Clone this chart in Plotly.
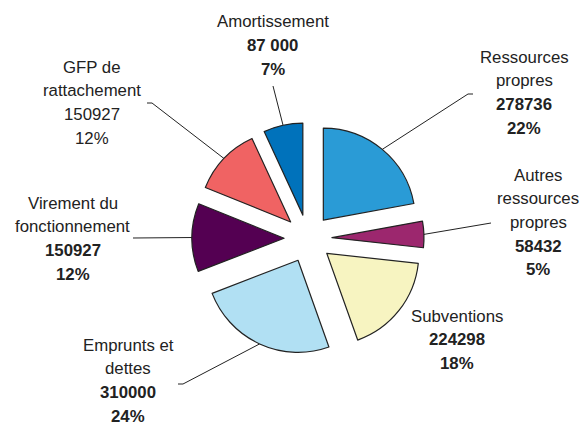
import math
import plotly.graph_objects as go

# ---- data ----
labels = ["Ressources propres", "Autres ressources propres", "Subventions",
          "Emprunts et dettes", "Virement du fonctionnement",
          "GFP de rattachement", "Amortissement"]
values = [278736, 58432, 224298, 310000, 150927, 150927, 87000]
value_labels = ["278736", "58432", "224298", "310000", "150927", "150927", "87 000"]
pct_labels = ["22%", "5%", "18%", "24%", "12%", "12%", "7%"]
name_lines = [["Ressources", "propres"], ["Autres", "ressources", "propres"],
              ["Subventions"], ["Emprunts et", "dettes"],
              ["Virement du", "fonctionnement"], ["GFP de", "rattachement"],
              ["Amortissement"]]
value_bold = [True, True, True, True, True, False, True]
colors = ["#2A9BD6", "#9C276E", "#F7F4C1", "#B1E0F3", "#540052", "#F06363", "#0072BB"]

# ---- layout / styling ----
W, H = 582, 427
dom_x = [192 / W, 424 / W]
dom_y = [1 - 354.5 / H, 1 - 122.5 / H]
pull = 0.26
font_family = "Liberation Sans, Arial, sans-serif"
font_size = 16.8
text_color = "#222222"
line_gap = 23.7
label_pos = [(524, 57), (538, 175), (457, 316), (128, 345),
             (72.5, 203), (91.7, 67), (272.5, 21.7)]
leader_start = [[(473, 94), (468, 94)], [(491, 223)], None,
                [(178, 384), (183, 384)], [(133, 238)],
                [(147, 103), (152, 103)], [(273, 86)]]

fig = go.Figure()

fig.add_trace(go.Pie(
    labels=labels, values=values, sort=False, direction="clockwise",
    rotation=0, pull=[pull] * len(values), textinfo="none",
    marker=dict(colors=colors, line=dict(color="#222222", width=1.2)),
    domain=dict(x=dom_x, y=dom_y), showlegend=False, hoverinfo="label+value+percent",
))

# pie geometry (same as plotly's own computation)
boxW = W * (dom_x[1] - dom_x[0])
boxH = H * (dom_y[1] - dom_y[0])
cx = W * (dom_x[0] + dom_x[1]) / 2
cy = H * (1 - dom_y[0]) - boxH / 2
r = min(boxW, boxH) / (2 + 2 * pull)
total = sum(values)

lx, ly = [], []
cum = 0
for i, v in enumerate(values):
    mid = (cum + v / 2) / total * 2 * math.pi
    cum += v
    if leader_start[i] is None:
        continue
    ax = cx + r * (1 + pull) * math.sin(mid)
    ay = cy - r * (1 + pull) * math.cos(mid)
    for (px, py) in leader_start[i]:
        lx.append(px)
        ly.append(py)
    lx += [ax, None]
    ly += [ay, None]

fig.add_trace(go.Scatter(x=lx, y=ly, mode="lines",
                         line=dict(color="#222222", width=1),
                         hoverinfo="skip", showlegend=False))

annotations = []
for i in range(len(values)):
    x0, y0 = label_pos[i]
    lines = list(name_lines[i])
    if value_bold[i]:
        lines += ["<b>" + value_labels[i] + "</b>", "<b>" + pct_labels[i] + "</b>"]
    else:
        lines += [value_labels[i], pct_labels[i]]
    for k, t in enumerate(lines):
        annotations.append(dict(
            x=x0, y=y0 + k * line_gap, xref="x", yref="y", text=t,
            showarrow=False, xanchor="center", yanchor="middle",
            borderpad=0, borderwidth=0,
            font=dict(family=font_family, size=font_size, color=text_color)))

fig.update_layout(
    width=W, height=H, margin=dict(l=0, r=0, t=0, b=0),
    paper_bgcolor="white", plot_bgcolor="rgba(0,0,0,0)",
    xaxis=dict(range=[0, W], visible=False, fixedrange=True, domain=[0, 1]),
    yaxis=dict(range=[H, 0], visible=False, fixedrange=True, domain=[0, 1]),
    annotations=annotations,
)

fig.write_html("out.html", config={"displayModeBar": False},
               post_script="document.body.style.margin='0px';document.body.style.padding='0px';")
